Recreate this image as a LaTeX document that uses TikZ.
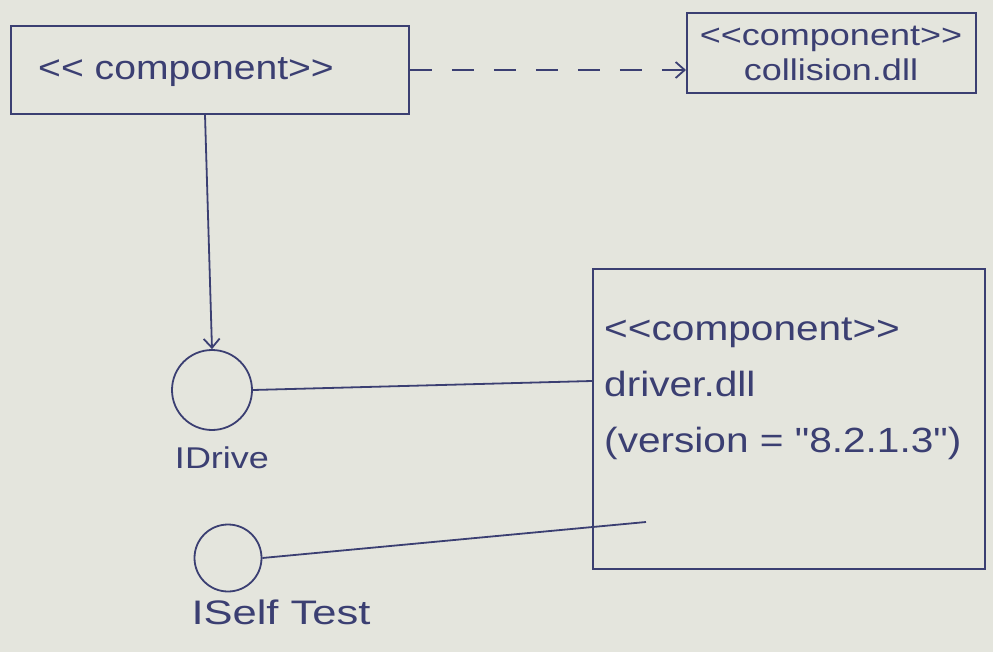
\documentclass[tikz,border=0pt]{standalone}
\usepackage{fontspec}
\setmainfont{Liberation Sans}[Ligatures={NoCommon,TeXOff}]
\usetikzlibrary{arrows.meta}
\definecolor{paper}{HTML}{E4E5DD}
\definecolor{ink}{HTML}{3B3F72}
\newcommand{\stereo}[1]{{<}{<}#1{>}{>}}
\begin{document}
\begin{tikzpicture}[x=1pt,y=-1pt,
  ink line/.style={draw=ink, line width=1.8pt},
  compbox/.style={ink line, rectangle, inner sep=0pt},
  lbl/.style={text=ink, inner sep=0pt, anchor=west, align=left},
  iface/.style={ink line, circle, inner sep=0pt},
  opentip/.style={-{Straight Barb[length=9pt,width=16pt]}}]
  % paper
  \fill[paper] (0,0) rectangle (993,652);
  \useasboundingbox (0,0) rectangle (993,652);

  % components
  \node[compbox, minimum width=398pt, minimum height=88pt, anchor=north west] (client) at (10,25) {};
  \node[lbl, xscale=1.15, font=\fontsize{34}{38}\selectfont] (clienttext) at (38,72) {\stereo{ component}};

  \node[compbox, minimum width=289pt, minimum height=80pt, anchor=north west] (collision) at (686,12) {};
  \node[text=ink, align=center, inner sep=0pt, xscale=1.2, font=\fontsize{30}{35}\selectfont] (collisiontext) at (831,53) {\stereo{component}\\collision.dll};

  \node[compbox, minimum width=392pt, minimum height=300pt, anchor=north west] (driver) at (592,268) {};
  \node[lbl, xscale=1.16, font=\fontsize{35}{56}\selectfont, anchor=north west] (drivertext) at (604,318)
    {\stereo{component}\\driver.dll\\(version = "8.2.1.3")};

  % interfaces
  \node[iface, minimum size=80pt] (idrive) at (212,390) {};
  \node[text=ink, xscale=1.2, font=\fontsize{30}{34}\selectfont] (idrivelbl) at (222,458) {IDrive};
  \node[iface, minimum size=67pt] (iself) at (228,558) {};
  \node[text=ink, xscale=1.28, font=\fontsize{34}{38}\selectfont] (iselflbl) at (281,612) {ISelf Test};

  % connectors
  \coordinate (drvin) at (646,522);
  \draw[ink line, dash pattern=on 22pt off 20pt, opentip] (client.east |- 0,70) -- (collision.west |- 0,70);
  \draw[ink line, opentip] (client.south -| 205,0) -- (idrive.north);
  \draw[ink line] (idrive.east) -- (driver.west |- 0,381);
  \draw[ink line] (iself.east) -- (drvin);
\end{tikzpicture}
\end{document}
